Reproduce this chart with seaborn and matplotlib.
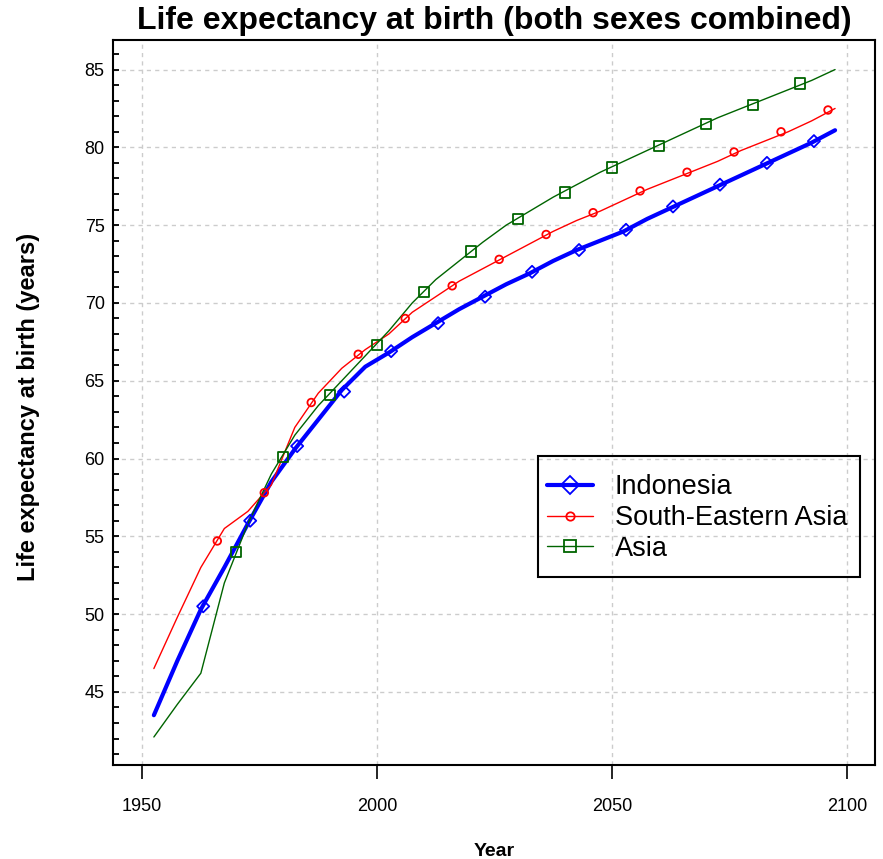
import numpy as np
import pandas as pd
import matplotlib.pyplot as plt
import seaborn as sns
from matplotlib.lines import Line2D
from matplotlib.patches import Rectangle
from matplotlib.ticker import MultipleLocator

# period mid-points (5-year periods 1950-1955 ... 2095-2100)
years = [1952.5, 1957.5, 1962.5, 1967.5, 1972.5, 1977.5, 1982.5, 1987.5, 1992.5, 1997.5,
         2002.5, 2007.5, 2012.5, 2017.5, 2022.5, 2027.5, 2032.5, 2037.5, 2042.5, 2047.5,
         2052.5, 2057.5, 2062.5, 2067.5, 2072.5, 2077.5, 2082.5, 2087.5, 2092.5, 2097.5]

indonesia = [43.5, 47.0, 50.3, 53.0, 55.8, 58.5, 60.6, 62.5, 64.4, 65.9,
             66.8, 67.8, 68.7, 69.6, 70.4, 71.2, 71.9, 72.7, 73.4, 74.0,
             74.6, 75.4, 76.1, 76.8, 77.5, 78.2, 78.9, 79.6, 80.3, 81.1]
se_asia = [46.5, 49.8, 53.0, 55.5, 56.6, 58.3, 62.0, 64.2, 65.8, 67.0,
           68.0, 69.4, 70.4, 71.4, 72.2, 73.0, 73.8, 74.6, 75.3, 75.9,
           76.6, 77.3, 77.9, 78.5, 79.1, 79.8, 80.4, 81.0, 81.7, 82.5]
asia = [42.1, 44.2, 46.2, 52.0, 55.8, 59.0, 61.5, 63.4, 65.0, 66.6,
        68.2, 70.0, 71.5, 72.7, 73.9, 75.0, 75.9, 76.8, 77.6, 78.4,
        79.1, 79.8, 80.5, 81.2, 81.9, 82.5, 83.1, 83.7, 84.3, 85.0]

# marker positions
indonesia_mk_years = [1963, 1973, 1983, 1993, 2003, 2013, 2023, 2033, 2043, 2053, 2063, 2073, 2083, 2093]
indonesia_mk = [50.5, 56.0, 60.8, 64.3, 66.9, 68.7, 70.4, 72.0, 73.4, 74.7, 76.2, 77.6, 79.0, 80.4]
se_asia_mk_years = [1966, 1976, 1986, 1996, 2006, 2016, 2026, 2036, 2046, 2056, 2066, 2076, 2086, 2096]
se_asia_mk = [54.7, 57.8, 63.6, 66.7, 69.0, 71.1, 72.8, 74.4, 75.8, 77.2, 78.4, 79.7, 81.0, 82.4]
asia_mk_years = [1970, 1980, 1990, 2000, 2010, 2020, 2030, 2040, 2050, 2060, 2070, 2080, 2090]
asia_mk = [54.0, 60.1, 64.1, 67.3, 70.7, 73.3, 75.4, 77.1, 78.7, 80.1, 81.5, 82.7, 84.1]

labels = ["Indonesia", "South-Eastern Asia", "Asia"]

sns.set_theme(style="white")
plt.rcParams['font.family'] = ['Liberation Sans', 'DejaVu Sans']
plt.rcParams.update({"text.color": "black", "axes.labelcolor": "black",
                     "xtick.color": "black", "ytick.color": "black"})

fig = plt.figure(figsize=(8.83, 8.59), dpi=100)
ax = fig.add_axes([113 / 883, 1 - 765 / 859, 762 / 883, 725 / 859])

series = [
    (indonesia, indonesia_mk_years, indonesia_mk, "#0000ff", 3.0, "D", 38),
    (se_asia, se_asia_mk_years, se_asia_mk, "#ff0000", 1.0, "o", 30),
    (asia, asia_mk_years, asia_mk, "#006400", 1.0, "s", 55),
]
for vals, mk_x, mk_y, col, lw, mk, size in series:
    sns.lineplot(x=years, y=vals, color=col, linewidth=lw, ax=ax, zorder=3)
    sns.scatterplot(x=mk_x, y=mk_y, marker=mk, s=size, facecolor="none",
                    edgecolor=col, linewidth=1.3, ax=ax, zorder=4)

ax.set_xlim(1943.8, 2106)
ax.set_ylim(40.3, 86.9)
ax.set_xticks([1950, 2000, 2050, 2100])
ax.yaxis.set_major_locator(MultipleLocator(5))
ax.yaxis.set_minor_locator(MultipleLocator(1))
ax.grid(True, which="major", color="#cccccc", linestyle=(0, (3, 3)), linewidth=1)

ax.tick_params(axis="x", direction="out", length=10, width=1.2,
               labelsize=13, pad=14, bottom=True)
ax.tick_params(axis="y", which="both", direction="in", length=4, width=1.3,
               labelsize=13, pad=6, left=True)
for sp in ax.spines.values():
    sp.set_color("black")
    sp.set_linewidth(1.5)

ax.set_xlabel("Year", fontsize=14, fontweight="bold", labelpad=20)
ax.set_ylabel("")
fig.text(29 / 883, 1 - 407 / 859, "Life expectancy at birth (years)", rotation=90,
         fontsize=17, fontweight="bold", ha="center", va="center")
ax.set_title("Life expectancy at birth (both sexes combined)", fontsize=23,
             fontweight="bold", pad=8)

handles = [
    Line2D([], [], color="#0000ff", linewidth=3.0, marker="D", markersize=9,
           markerfacecolor="none", markeredgecolor="#0000ff", markeredgewidth=1.3),
    Line2D([], [], color="#ff0000", linewidth=1.0, marker="o", markersize=6,
           markerfacecolor="none", markeredgecolor="#ff0000", markeredgewidth=1.3),
    Line2D([], [], color="#006400", linewidth=1.0, marker="s", markersize=8,
           markerfacecolor="none", markeredgecolor="#006400", markeredgewidth=1.3),
]
ax.legend(handles, labels, loc="center left",
          bbox_to_anchor=(547 / 883, 1 - 518 / 859), bbox_transform=fig.transFigure,
          fontsize=19.5, frameon=False, borderaxespad=0, borderpad=0,
          handlelength=1.7, handletextpad=0.8, labelspacing=0.17)
# legend box
fig.patches.append(Rectangle((538 / 883, 1 - 577 / 859), 322 / 883, 121 / 859,
                             transform=fig.transFigure, fill=False,
                             edgecolor="black", linewidth=1.5, zorder=5))

fig.savefig("out.png", dpi=100)
